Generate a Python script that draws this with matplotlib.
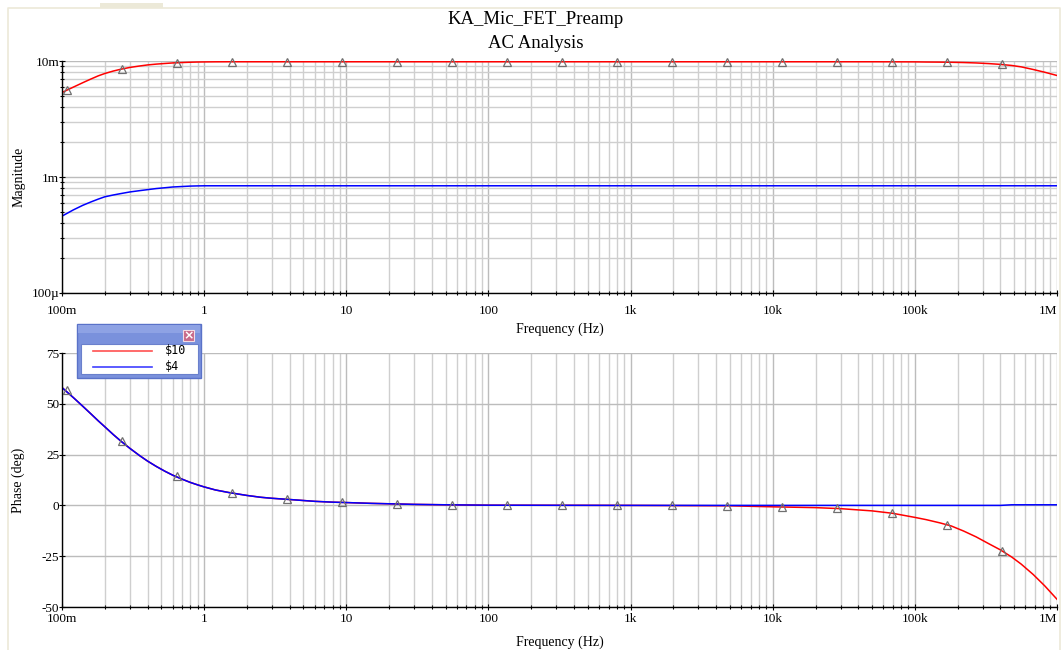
import numpy as np
import matplotlib
matplotlib.use('Agg')
import matplotlib.pyplot as plt
from matplotlib.patches import Rectangle
from matplotlib.ticker import LogLocator, NullFormatter

plt.rcParams['font.family'] = ['Liberation Serif', 'DejaVu Serif']
plt.rcParams['axes.unicode_minus'] = False

# values
freq = [0.1, 0.12, 0.14, 0.16, 0.18, 0.2, 0.23, 0.26, 0.3, 0.35, 0.4, 0.46, 0.53,
        0.6, 0.7, 0.8, 0.9, 1, 1.2, 1.5, 2, 2.5, 3, 4, 5, 6, 8, 10, 15, 20, 30, 50,
        100, 1e3, 5e3, 1e4, 2e4, 3e4, 5e4, 7e4, 1e5, 1.2e5, 1.5e5, 1.8e5, 2.2e5,
        2.7e5, 3.3e5, 4e5, 4.8e5, 5.6e5, 6.8e5, 8.2e5, 1e6]

mag_10 = [5.35, 5.95, 6.5, 7.0, 7.45, 7.8, 8.2, 8.5, 8.8, 9.05, 9.25, 9.4, 9.52,
          9.62, 9.7, 9.76, 9.8, 9.82, 9.84, 9.85, 9.85, 9.85, 9.85, 9.85, 9.85,
          9.85, 9.85, 9.85, 9.85, 9.85, 9.85, 9.85, 9.85, 9.85, 9.85, 9.85, 9.85,
          9.85, 9.85, 9.84, 9.83, 9.8, 9.78, 9.75, 9.7, 9.62, 9.5, 9.35, 9.15, 8.9,
          8.45, 8.0, 7.5]  # mV

mag_4 = [0.46, 0.52, 0.57, 0.61, 0.645, 0.675, 0.70, 0.72, 0.743, 0.762, 0.778,
         0.795, 0.808, 0.82, 0.828, 0.835, 0.838, 0.84, 0.84, 0.84, 0.84, 0.84,
         0.84, 0.84, 0.84, 0.84, 0.84, 0.84, 0.84, 0.84, 0.84, 0.84, 0.84, 0.84,
         0.84, 0.84, 0.84, 0.84, 0.84, 0.84, 0.84, 0.84, 0.84, 0.84, 0.84, 0.84,
         0.84, 0.84, 0.84, 0.84, 0.84, 0.84, 0.84]  # mV

phase_10 = [58.0, 53.1, 48.8, 45.0, 41.6, 38.7, 34.8, 31.6, 28.1, 24.6, 21.8, 19.2,
            16.8, 14.9, 12.9, 11.3, 10.1, 9.1, 7.6, 6.3, 4.9, 4.0, 3.5, 2.9, 2.4,
            2.0, 1.6, 1.4, 1.0, 0.8, 0.5, 0.3, 0.1, 0.0, -0.2, -0.7, -1.1, -1.6,
            -2.7, -3.9, -5.9, -7.0, -8.6, -10.1, -12.6, -15.5, -18.8, -21.9, -25.4,
            -28.9, -34.0, -39.6, -46.2]

phase_4 = [58.0, 53.1, 48.8, 45.0, 41.6, 38.7, 34.8, 31.6, 28.1, 24.6, 21.8, 19.2,
           16.8, 14.9, 12.9, 11.3, 10.1, 9.1, 7.6, 6.3, 4.9, 4.0, 3.5, 2.9, 2.4,
           2.0, 1.6, 1.4, 1.0, 0.8, 0.5, 0.3, 0.1, 0.0, 0.0, 0.0, 0.0, 0.0,
           0.0, 0.0, 0.0, 0.0, 0.0, 0.0, 0.0, 0.0, 0.0, 0.0, 0.3, 0.3,
           0.3, 0.3, 0.3]

# triangle markers on the $10 trace
mk_freq = [0.1084, 0.2644, 0.6447, 1.572, 3.832, 9.342, 22.78, 55.54, 135.4, 330.1,
           804.8, 1962, 4784, 11660, 28440, 69330, 169000, 412100]
mk_mag = [5.6, 8.55, 9.66, 9.85, 9.85, 9.85, 9.85, 9.85, 9.85, 9.85, 9.85, 9.85,
          9.85, 9.85, 9.85, 9.85, 9.76, 9.35]  # mV
mk_phase = [56.6, 31.6, 14.5, 6.1, 3.0, 1.5, 0.7, 0.3, 0.1, 0, 0, 0, -0.2, -0.7,
            -1.3, -3.8, -9.8, -22.6]

x_ticks = [0.1, 1, 10, 100, 1e3, 1e4, 1e5, 1e6]
x_labels = ['100m', '1', '10', '100', '1k', '10k', '100k', '1M']
mag_ticks = [1e-4, 1e-3, 1e-2]
mag_labels = ['100\u00b5', '1m', '10m']
phase_ticks = [-50, -25, 0, 25, 50, 75]

W, H = 1062, 650
fig = plt.figure(figsize=(W / 100, H / 100), dpi=100)


def px(x0, y0, x1, y1):
    return [x0 / W, 1 - y1 / H, (x1 - x0) / W, (y1 - y0) / H]


ax1 = fig.add_axes(px(62, 61, 1057, 293))
ax2 = fig.add_axes(px(62, 353, 1057, 607))


def style(ax, xpad):
    ax.set_xscale('log')
    ax.set_xlim(0.1, 1e6)
    ax.set_xticks(x_ticks)
    ax.set_xticklabels(x_labels)
    ax.get_xticklabels()[-1].set_ha('right')
    ax.xaxis.set_minor_locator(LogLocator(base=10, subs=np.arange(2, 10), numticks=20))
    ax.xaxis.set_minor_formatter(NullFormatter())
    for s in ['top', 'right']:
        ax.spines[s].set_visible(False)
    for s in ['left', 'bottom']:
        ax.spines[s].set_linewidth(1.0)
        ax.spines[s].set_zorder(5)
    ax.tick_params(which='both', direction='inout', length=4, width=0.8,
                   labelsize=9.5, pad=0)
    ax.tick_params(axis='x', pad=xpad)
    ax.tick_params(which='minor', length=3)
    ax.grid(which='major', color='#bcbcbc', linewidth=1.0)
    ax.set_axisbelow(True)
    ax.set_xlabel('Frequency (Hz)', fontsize=10)


style(ax1, 7)
ax1.set_yscale('log')
ax1.set_ylim(1e-4, 1e-2)
ax1.set_yticks(mag_ticks)
ax1.set_yticklabels(mag_labels)
ax1.yaxis.set_minor_locator(LogLocator(base=10, subs=np.arange(2, 10), numticks=20))
ax1.yaxis.set_minor_formatter(NullFormatter())
ax1.grid(which='minor', color='#cfcfcf', linewidth=1.0)
ax1.plot(freq, np.array(mag_10) * 1e-3, color='#ff0000', lw=1.1, zorder=3)
ax1.plot(freq, np.array(mag_4) * 1e-3, color='#0000ff', lw=1.1, zorder=3)
ax1.plot(mk_freq, np.array(mk_mag) * 1e-3, linestyle='none', marker='^', ms=5.5,
         mfc='none', mec='#707070', mew=0.9, zorder=4, clip_on=False)
ax1.set_ylabel('Magnitude', fontsize=10)
ax1.yaxis.set_label_coords(-0.037, 0.5)
ax1.xaxis.set_label_coords(0.5, -30 / 232)

style(ax2, 2)
ax2.set_ylim(-50, 75)
ax2.set_yticks(phase_ticks)
ax2.grid(which='minor', axis='x', color='#cfcfcf', linewidth=1.0)
ax2.plot(freq, phase_10, color='#ff0000', lw=1.1, zorder=3)
ax2.plot(mk_freq, mk_phase, linestyle='none', marker='^', ms=5.5, mfc='none',
         mec='#707070', mew=0.9, zorder=4, clip_on=False)
ax2.plot(freq, phase_4, color='#0000ff', lw=1.1, zorder=3)
ax2.set_ylabel('Phase (deg)', fontsize=10)
ax2.yaxis.set_label_coords(-0.037, 0.5)
ax2.xaxis.set_label_coords(0.5, -29 / 254)

fig.text(536 / W, 1 - 20 / H, 'KA_Mic_FET_Preamp', ha='center', va='center', fontsize=13.5)
fig.text(536 / W, 1 - 43 / H, 'AC Analysis', ha='center', va='center', fontsize=13.5)

# overlay for window frame and the floating legend box
ov = fig.add_axes([0, 0, 1, 1], zorder=10)
ov.set_xlim(0, W)
ov.set_ylim(H, 0)
ov.axis('off')
ov.patch.set_alpha(0)
ov.plot([8, 8, 1060, 1060], [H, 8, 8, H], color='#ece9d8', lw=1.2)
ov.add_patch(Rectangle((100, 3), 63, 5, color='#ece9d8', lw=0))

ov.add_patch(Rectangle((77, 324), 124, 54, facecolor='#7a91dc', edgecolor='#5a72c8', lw=1))
ov.add_patch(Rectangle((78, 325), 122, 8, facecolor='#8ea2e4', lw=0))
ov.add_patch(Rectangle((81, 344), 117, 30, facecolor='white', edgecolor='#6a80cc', lw=0.8))
ov.add_patch(Rectangle((183, 330), 11, 11, facecolor='#c86a8a', edgecolor='#f4dce4', lw=0.8))
ov.text(188.5, 335.5, '\u00d7', color='white', ha='center', va='center', fontsize=9,
        fontweight='bold', family='DejaVu Sans')
ov.plot([93, 152], [351, 351], color='#ff5050', lw=1.2)
ov.plot([93, 152], [367, 367], color='#4040ff', lw=1.2)
ov.text(165, 351, '$10', ha='left', va='center', fontsize=8.5, family='DejaVu Sans Mono')
ov.text(165, 367, '$4', ha='left', va='center', fontsize=8.5, family='DejaVu Sans Mono')

fig.savefig('out.png', dpi=100)
